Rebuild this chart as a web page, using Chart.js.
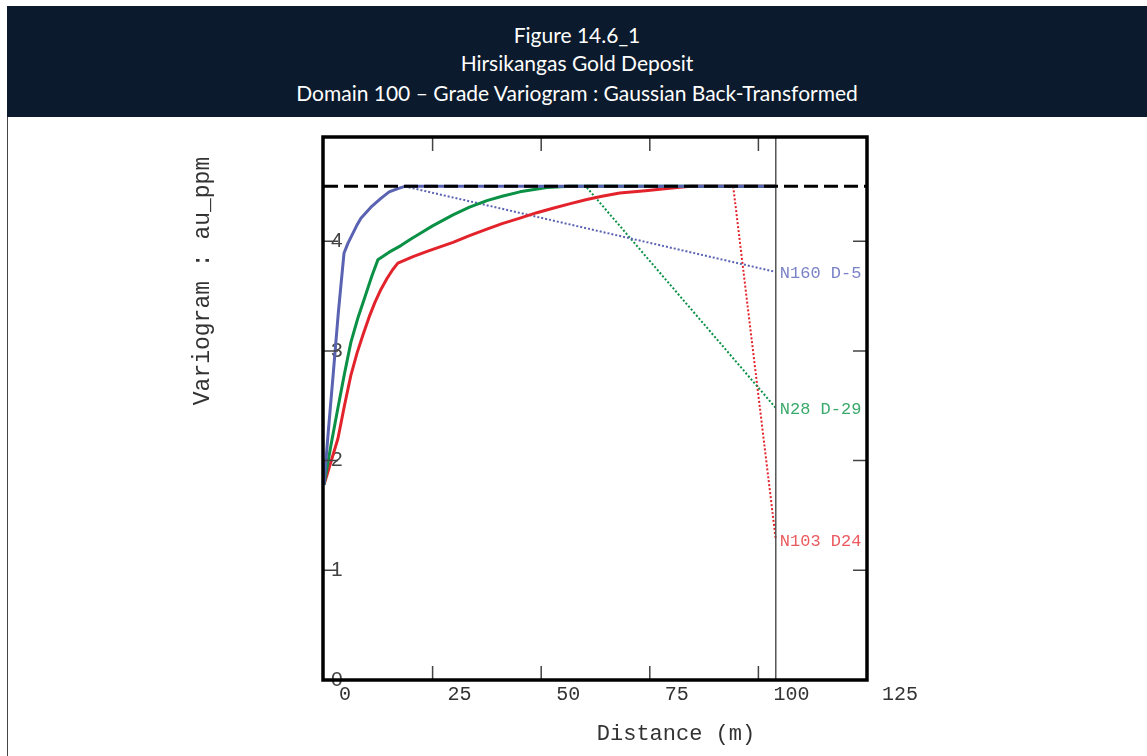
<!DOCTYPE html>
<html>
<head>
<meta charset="utf-8">
<script src="https://cdn.jsdelivr.net/npm/chart.js@4"></script>
<style>
  body { margin: 0; background: #fff; overflow: hidden; }
  #page { position: relative; width: 1147px; height: 756px; }
  #header { position: absolute; left: 7px; top: 6px; width: 1140px; height: 111px; background: #0b1a2c; }
  #header div { position: absolute; left: 0; width: 100%; text-align: center; color: #fff; font-family: Lato, sans-serif; font-size: 21px; line-height: 24px; }
  #border { position: absolute; left: 7px; top: 117px; width: 1px; height: 639px; background: #444; }
  #wrap { position: absolute; left: 0; top: 0; width: 1147px; height: 756px; }
</style>
</head>
<body>
<div id="page">
  <div id="header">
    <div style="top:17px">Figure 14.6_1</div>
    <div style="top:45px">Hirsikangas Gold Deposit</div>
    <div style="top:75px">Domain 100 – Grade Variogram : Gaussian Back-Transformed</div>
  </div>
  <div id="border"></div>
  <div id="wrap"><canvas id="vario"></canvas></div>
</div>
<script>
// valores
const dirLabels = ['N160 D-5', 'N28 D-29', 'N103 D24'];

const distN160 = [0, 1.0, 2.1, 3.3, 4.6, 5.5, 6.5, 7.5, 8.5, 10.8, 13.1, 15.0, 17.0, 18.6, 104];
const varN160 = [1.78, 2.27, 2.78, 3.35, 3.89, 3.98, 4.06, 4.14, 4.21, 4.31, 4.39, 4.45, 4.48, 4.50, 4.50];

const distN28 = [0, 1.6, 3.2, 4.7, 6.2, 7.8, 9.4, 11.0, 12.4, 15.0, 17.7, 20.0, 22.1, 25.0, 29.7, 33.5, 37.5, 41.0, 45.1, 48.0, 51.3, 56.6, 104];
const varN28 = [1.78, 2.14, 2.48, 2.79, 3.08, 3.30, 3.49, 3.68, 3.83, 3.90, 3.96, 4.02, 4.07, 4.14, 4.24, 4.31, 4.37, 4.41, 4.45, 4.47, 4.49, 4.50, 4.50];

const distN103 = [0, 1.6, 3.2, 4.7, 6.2, 7.6, 9.0, 10.4, 11.7, 13.1, 14.5, 15.8, 17.0, 20.5, 23.9, 29.7, 33.5, 37.5, 41.0, 45.1, 49.0, 52.7, 56.5, 60.5, 64.0, 68.1, 74.0, 79.0, 84.3, 104];
const varN103 = [1.78, 1.99, 2.20, 2.50, 2.78, 2.98, 3.15, 3.31, 3.44, 3.56, 3.66, 3.74, 3.80, 3.86, 3.91, 3.99, 4.05, 4.11, 4.16, 4.21, 4.26, 4.30, 4.34, 4.38, 4.41, 4.44, 4.46, 4.48, 4.50, 4.50];

// linhas pontilhadas até o rótulo de cada direção
const guideN160 = { x: [18.6, 104], y: [4.50, 3.72] };
const guideN28 = { x: [60.5, 104], y: [4.49, 2.48] };
const guideN103 = { x: [94.2, 104], y: [4.50, 1.28] };

const sillValue = 4.5;
const maxLag = 104;
const xTicks = [0, 25, 50, 75, 100, 125];
const yTicks = [0, 1, 2, 3, 4];

const colors = ['#5a62b2', '#0b9146', '#e3232b'];
const labelColors = ['#7a82c6', '#3aa96b', '#ea5a5e'];

function pts(xs, ys) {
    return xs.map((x, i) => ({ x: x, y: ys[i] }));
}

const monoFont = '"Liberation Mono", "Courier New", monospace';

// plugin para moldura, marcas internas, títulos e rótulos
const framePlugin = {
    id: 'frame',
    afterDraw(chart) {
        const ctx = chart.ctx;
        const a = chart.chartArea;
        const xs = chart.scales.x, ys = chart.scales.y;
        ctx.save();
        // marcas internas
        ctx.strokeStyle = '#444';
        ctx.lineWidth = 1.5;
        ctx.beginPath();
        xTicks.forEach(v => {
            if (v <= 0 || v >= 125) return;
            const px = xs.getPixelForValue(v);
            ctx.moveTo(px, a.top); ctx.lineTo(px, a.top + 14);
            ctx.moveTo(px, a.bottom); ctx.lineTo(px, a.bottom - 14);
        });
        yTicks.forEach(v => {
            if (v <= 0) return;
            const py = ys.getPixelForValue(v);
            ctx.moveTo(a.left, py); ctx.lineTo(a.left + 14, py);
            ctx.moveTo(a.right, py); ctx.lineTo(a.right - 14, py);
        });
        ctx.stroke();
        // moldura
        ctx.strokeStyle = '#000';
        ctx.lineWidth = 3.5;
        ctx.strokeRect(a.left - 1, a.top, a.right - a.left + 1, a.bottom - a.top);
        // rótulos das direções
        ctx.font = '17px ' + monoFont;
        ctx.textAlign = 'left';
        ctx.textBaseline = 'middle';
        [guideN160, guideN28, guideN103].forEach((g, i) => {
            ctx.fillStyle = labelColors[i];
            ctx.fillText(dirLabels[i], xs.getPixelForValue(g.x[1]) + 4, ys.getPixelForValue(g.y[1]) + 2);
        });
        // títulos dos eixos
        ctx.fillStyle = '#333';
        ctx.textAlign = 'center';
        ctx.font = '22px ' + monoFont;
        ctx.fillText('Distance (m)', 676, 734);
        ctx.translate(203, 281);
        ctx.rotate(-Math.PI / 2);
        ctx.font = '23px ' + monoFont;
        ctx.fillText('Variogram : au_ppm', 0, 0);
        ctx.restore();
    }
};

function generateChart() {
    const ctx = document.getElementById('vario').getContext('2d');
    new Chart(ctx, {
        type: 'line',
        data: {
            datasets: [
                {
                    data: pts([0, 125], [sillValue, sillValue]),
                    borderColor: '#000', borderWidth: 3, borderDash: [14, 6]
                },
                {
                    data: pts([maxLag, maxLag], [0, 4.95]),
                    borderColor: '#555', borderWidth: 1.5
                },
                { data: pts(distN160, varN160), borderColor: colors[0], borderWidth: 3 },
                { data: pts(distN28, varN28), borderColor: colors[1], borderWidth: 3 },
                { data: pts(distN103, varN103), borderColor: colors[2], borderWidth: 3 },
                { data: pts(guideN160.x, guideN160.y), borderColor: colors[0], borderWidth: 2, borderDash: [2, 2] },
                { data: pts(guideN28.x, guideN28.y), borderColor: colors[1], borderWidth: 2, borderDash: [2, 2] },
                { data: pts(guideN103.x, guideN103.y), borderColor: colors[2], borderWidth: 2, borderDash: [2, 2] }
            ]
        },
        options: {
            responsive: true,
            maintainAspectRatio: false,
            animation: false,
            layout: { padding: { left: 324, right: 280, top: 137, bottom: 0 } },
            elements: { point: { radius: 0 }, line: { tension: 0, fill: false, borderJoinStyle: 'round' } },
            plugins: { legend: { display: false }, tooltip: { enabled: false } },
            scales: {
                x: {
                    type: 'linear', min: 0, max: 125,
                    afterFit: s => { s.height = 76; },
                    grid: { display: false, drawTicks: false },
                    border: { display: false },
                    ticks: {
                        stepSize: 25, align: 'start', labelOffset: 15, padding: 3,
                        maxRotation: 0, autoSkip: false,
                        color: '#333', font: { family: monoFont, size: 20 }
                    }
                },
                y: {
                    min: 0, max: 4.95,
                    afterFit: s => { s.width = 0; },
                    grid: { display: false, drawTicks: false },
                    border: { display: false },
                    ticks: {
                        stepSize: 1, includeBounds: false, mirror: true, padding: 7,
                        color: '#444', font: { family: '"Liberation Sans", Arial, sans-serif', size: 21 }
                    }
                }
            }
        },
        plugins: [framePlugin]
    });
}

document.addEventListener('DOMContentLoaded', generateChart);
</script>
</body>
</html>
